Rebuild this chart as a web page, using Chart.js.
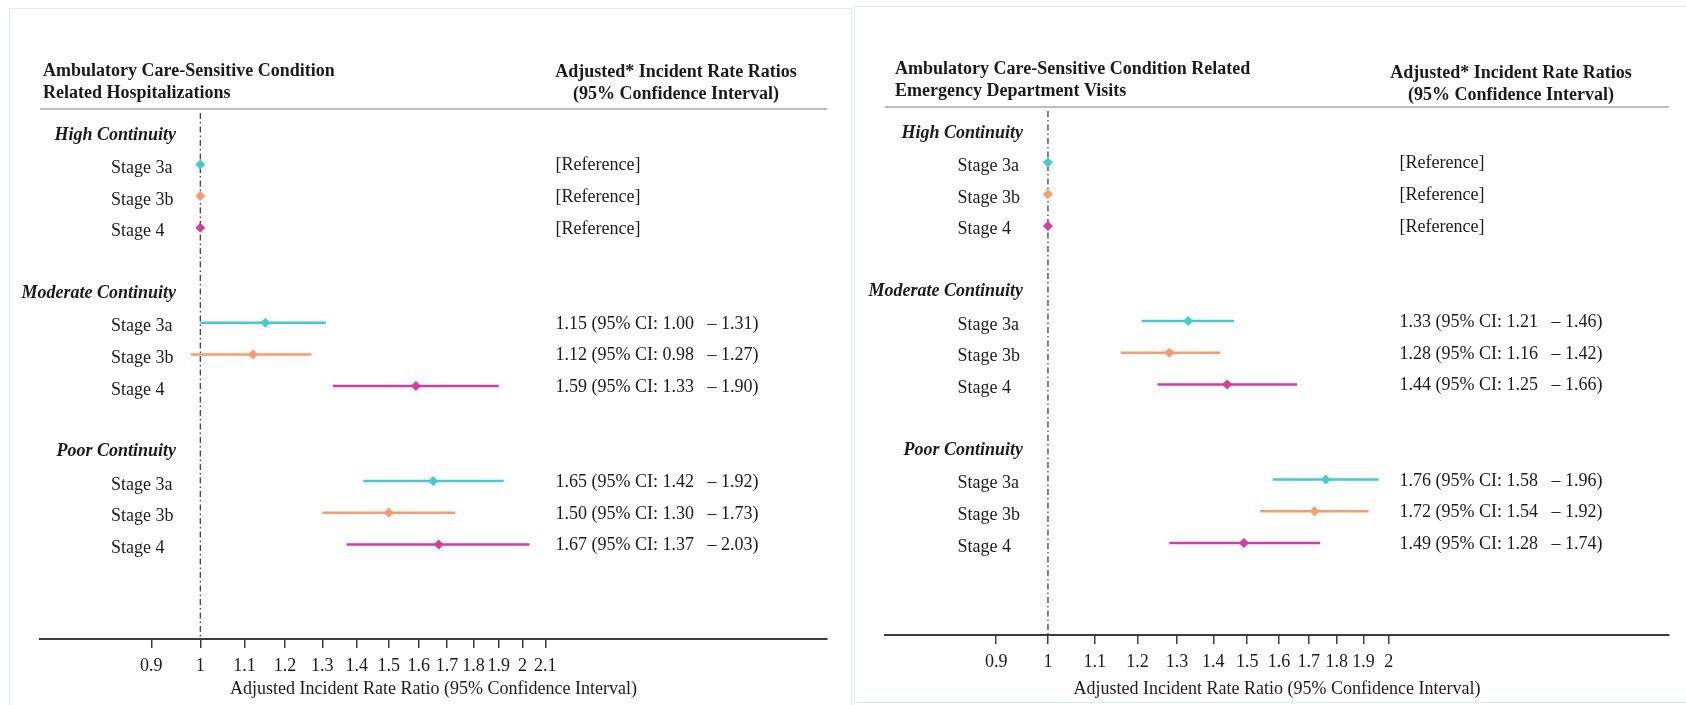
<!DOCTYPE html>
<html>
<head>
<meta charset="utf-8">
<script src="https://cdn.jsdelivr.net/npm/chart.js@4.4.1/dist/chart.umd.min.js"></script>
<style>
  body { margin: 0; background: #fff; width: 1686px; height: 705px; overflow: hidden; position: relative; }
  .panel { position: absolute; border: 1.5px solid #e1ebeb; box-sizing: border-box; }
  #box1 { left: 9px; top: 8px; width: 843px; height: 710px; }
  #box2 { left: 854px; top: 6px; width: 850px; height: 697px; }
  canvas { position: absolute; top: 0; }
  #hosp { left: 0; }
  #ed { left: 853px; }
</style>
</head>
<body>
<div class="panel" id="box1"></div>
<div class="panel" id="box2"></div>
<canvas id="hosp" width="852" height="705"></canvas>
<canvas id="ed" width="833" height="705"></canvas>
<script>
Chart.defaults.font.family = '"Liberation Serif", "Times New Roman", serif';
Chart.defaults.font.size = 18;
Chart.defaults.color = '#1a1a1a';

const stageLabels = ['Stage 3a', 'Stage 3b', 'Stage 4'];
const groupLabels = ['High Continuity', 'Moderate Continuity', 'Poor Continuity'];
const stageColors = ['#41cccf', '#fb9b6a', '#d63c9f'];

// hospitalizations, rows: high 3a/3b/4, moderate 3a/3b/4, poor 3a/3b/4
const hospEst  = [1, 1, 1, 1.15, 1.12, 1.59, 1.65, 1.50, 1.67];
const hospLow  = [null, null, null, 1.00, 0.98, 1.33, 1.42, 1.30, 1.37];
const hospHigh = [null, null, null, 1.31, 1.27, 1.90, 1.92, 1.73, 2.03];
const hospTicks = [0.9, 1, 1.1, 1.2, 1.3, 1.4, 1.5, 1.6, 1.7, 1.8, 1.9, 2, 2.1];

// emergency department visits
const edEst  = [1, 1, 1, 1.33, 1.28, 1.44, 1.76, 1.72, 1.49];
const edLow  = [null, null, null, 1.21, 1.16, 1.25, 1.58, 1.54, 1.28];
const edHigh = [null, null, null, 1.46, 1.42, 1.66, 1.96, 1.92, 1.74];
const edTicks = [0.9, 1, 1.1, 1.2, 1.3, 1.4, 1.5, 1.6, 1.7, 1.8, 1.9, 2];

const hospTitle = ['Ambulatory Care-Sensitive Condition', 'Related Hospitalizations'];
const edTitle = ['Ambulatory Care-Sensitive Condition Related', 'Emergency Department Visits'];
const colHeader = ['Adjusted* Incident Rate Ratios', '(95% Confidence Interval)'];
const xTitle = 'Adjusted Incident Rate Ratio (95% Confidence Interval)';

// row slot on the y scale: 3 rows per group, 2 empty slots between groups
function rowY(i) { return Math.floor(i / 3) * 5 + i % 3; }

function ciText(est, low, high, i) {
  if (low[i] == null) return '[Reference]';
  return est[i].toFixed(2) + ' (95% CI: ' + low[i].toFixed(2) + '   \u2013 ' + high[i].toFixed(2) + ')';
}

function buildDatasets(est, low, high, yMax) {
  const ds = [];
  stageLabels.forEach((s, k) => {
    const pts = [];
    est.forEach((v, i) => { if (i % 3 === k) pts.push({x: v, y: rowY(i)}); });
    ds.push({
      label: s, data: pts, showLine: false,
      pointStyle: 'rectRot', pointRadius: 5,
      backgroundColor: stageColors[k], borderColor: stageColors[k], borderWidth: 0,
      order: 0
    });
  });
  est.forEach((v, i) => {
    if (low[i] == null) return;
    ds.push({
      data: [{x: low[i], y: rowY(i)}, {x: high[i], y: rowY(i)}],
      showLine: true, pointRadius: 0,
      borderColor: stageColors[i % 3], borderWidth: 2.5,
      order: 1
    });
  });
  // reference line at IRR = 1
  ds.push({
    data: [{x: 1, y: -1.62}, {x: 1, y: yMax}],
    showLine: true, pointRadius: 0,
    borderColor: '#333', borderWidth: 1.2, borderDash: [6, 3, 1.5, 3],
    order: 2
  });
  return ds;
}

function makePanel(id, cfg) {
  const textPlugin = {
    id: 'forestText',
    afterDraw(chart) {
      const ctx = chart.ctx, y = chart.scales.y, area = chart.chartArea;
      ctx.save();
      ctx.strokeStyle = '#a8a8a8';
      ctx.lineWidth = 1.5;
      ctx.beginPath();
      ctx.moveTo(area.left, area.top);
      ctx.lineTo(area.right, area.top);
      ctx.stroke();

      ctx.fillStyle = '#1a1a1a';
      ctx.textBaseline = 'alphabetic';
      ctx.font = 'bold 18px "Liberation Serif"';
      ctx.textAlign = 'left';
      cfg.title.forEach((t, i) => ctx.fillText(t, cfg.titleX, cfg.titleY[i]));
      ctx.textAlign = 'center';
      colHeader.forEach((t, i) => ctx.fillText(t, cfg.headX, cfg.headY[i]));

      ctx.font = 'italic bold 18px "Liberation Serif"';
      ctx.textAlign = 'right';
      groupLabels.forEach((g, j) => ctx.fillText(g, cfg.groupX, y.getPixelForValue(j * 5 - 1) + 7));

      ctx.font = '18px "Liberation Serif"';
      ctx.textAlign = 'left';
      cfg.est.forEach((v, i) => {
        const py = y.getPixelForValue(rowY(i));
        ctx.fillText(stageLabels[i % 3], cfg.labelX, py + 8.5);
        ctx.fillText(ciText(cfg.est, cfg.low, cfg.high, i), cfg.valueX, py + 6);
      });
      ctx.restore();
    }
  };

  return new Chart(document.getElementById(id), {
    type: 'scatter',
    data: { datasets: buildDatasets(cfg.est, cfg.low, cfg.high, cfg.yMax) },
    plugins: [textPlugin],
    options: {
      responsive: false,
      animation: false,
      events: [],
      layout: { padding: cfg.padding },
      plugins: { legend: { display: false }, tooltip: { enabled: false } },
      scales: {
        x: {
          type: 'logarithmic',
          bounds: 'data',
          min: cfg.xMin,
          max: cfg.xMax,
          afterBuildTicks: (scale) => { scale.ticks = cfg.ticks.map(v => ({value: v})); },
          afterFit: (scale) => { scale.height = cfg.axisHeight; },
          border: { display: true, color: '#3c3c3c', width: 2 },
          grid: { drawOnChartArea: false, drawTicks: true, tickLength: 9, color: '#3c3c3c', lineWidth: 1.5 },
          ticks: {
            autoSkip: false, maxRotation: 0, padding: 7,
            color: '#1a1a1a', font: { size: 18 },
            callback: (v) => String(v)
          },
          title: {
            display: true, text: xTitle, color: '#1a1a1a',
            font: { size: 18 }, padding: { top: 0, bottom: 5 }
          }
        },
        y: { type: 'linear', reverse: true, min: -1.75, max: cfg.yMax, display: false }
      }
    }
  });
}

makePanel('hosp', {
  est: hospEst, low: hospLow, high: hospHigh, ticks: hospTicks,
  title: hospTitle,
  xMin: 0.7084, xMax: 3.849, yMax: 14.985,
  padding: { left: 40, right: 25, top: 109, bottom: 0 }, axisHeight: 66,
  titleX: 43, titleY: [76, 97.5], headX: 676, headY: [77, 98.5],
  labelX: 111, groupX: 176, valueX: 555.5
});

makePanel('ed', {
  est: edEst, low: edLow, high: edHigh, ticks: edTicks,
  title: edTitle,
  xMin: 0.7178, xMax: 3.538, yMax: 14.9,
  padding: { left: 32, right: 17, top: 107, bottom: 0 }, axisHeight: 70,
  titleX: 42, titleY: [74, 95.5], headX: 658, headY: [77.5, 99.5],
  labelX: 104.5, groupX: 170, valueX: 546.5
});
</script>
</body>
</html>
